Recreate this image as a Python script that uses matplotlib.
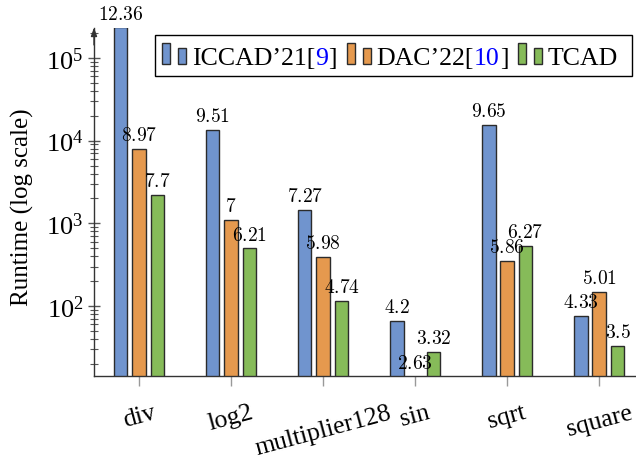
import numpy as np
import matplotlib
matplotlib.use("Agg")
import matplotlib.pyplot as plt
from matplotlib.patches import Rectangle
from matplotlib.offsetbox import AnchoredOffsetbox, HPacker, TextArea, DrawingArea

plt.rcParams['font.family'] = ['Liberation Serif', 'DejaVu Serif']
plt.rcParams['mathtext.fontset'] = 'custom'
plt.rcParams['mathtext.rm'] = 'Liberation Serif'
plt.rcParams['mathtext.it'] = 'Liberation Serif:italic'
plt.rcParams['mathtext.bf'] = 'Liberation Serif:bold'

# benchmark names
cases = ["div", "log2", "multiplier128", "sin", "sqrt", "square"]
# labels above bars are ln(runtime)
iccad_ln = [12.36, 9.51, 7.27, 4.2, 9.65, 4.33]
dac_ln = [8.97, 7, 5.98, 2.63, 5.86, 5.01]
tcad_ln = [7.7, 6.21, 4.74, 3.32, 6.27, 3.5]

series = [iccad_ln, dac_ln, tcad_ln]
colors = ["#7094CE", "#E5994E", "#86BB59"]
edge = "#2b2b2b"

fig = plt.figure(figsize=(6.36, 4.6), dpi=100)
ax = fig.add_axes([94 / 636, 83 / 460, 542 / 636, 348.5 / 460])

x = np.arange(len(cases))
w = 0.147
offs = [-0.2, 0.0, 0.2]
for vals, c, o in zip(series, colors, offs):
    h = np.exp(np.array(vals, dtype=float))
    ax.bar(x + o, h, width=w, color=c, edgecolor=edge, linewidth=1.0, zorder=2)
    for xi, hi, v in zip(x + o, h, vals):
        ax.annotate("${:g}$".format(v), xy=(xi, hi), xytext=(0, 3.5),
                    textcoords="offset points", ha="center", va="bottom",
                    fontsize=14, math_fontfamily="cm", annotation_clip=False,
                    zorder=3)

ax.set_yscale("log")
ax.set_ylim(14.3, 2.33e5)
ax.set_xlim(-0.49, 5.40)

ax.set_xticks(x)
ax.set_xticklabels(cases, rotation=15, fontsize=18.5)
ax.tick_params(axis="x", direction="out", length=7, color="#999999", width=1, pad=11)
ax.tick_params(axis="y", which="major", direction="inout", length=9, color="#555555",
               width=1, labelsize=19, pad=3)
ax.tick_params(axis="y", which="minor", direction="inout", length=6, color="#555555", width=0.8)

for s in ["top", "right"]:
    ax.spines[s].set_visible(False)
for s in ["left", "bottom"]:
    ax.spines[s].set_color("#333333")
    ax.spines[s].set_linewidth(1.0)

# arrow on top of y axis
ax.annotate("", xy=(0, 1.0), xytext=(0, 0.95), xycoords="axes fraction",
            arrowprops=dict(arrowstyle="-|>,head_width=0.18,head_length=0.5",
                            color="#333333", lw=1.0, shrinkA=0, shrinkB=0))

ax.set_ylabel("Runtime (log scale)", fontsize=18)
ax.yaxis.set_label_coords(-0.11, 0.486)

# legend with the colored citation numbers
def handle(c):
    da = DrawingArea(17, 15, 0, 0)
    da.add_artist(Rectangle((0, 0), 5.5, 15, fc=c, ec=edge, lw=1.0))
    da.add_artist(Rectangle((11.5, 0), 5.5, 11, fc=c, ec=edge, lw=1.0))
    return da

tp = dict(fontsize=18.6, color="black")
tb = dict(fontsize=18.6, color="blue")
entries = [
    [TextArea("ICCAD’21[", textprops=tp), TextArea("9", textprops=tb), TextArea("]", textprops=tp)],
    [TextArea("DAC’22[", textprops=tp), TextArea("10", textprops=tb), TextArea("]", textprops=tp)],
    [TextArea("TCAD", textprops=tp), TextArea(" ", textprops=tp)],
]
items = []
for c, parts in zip(colors, entries):
    txt = HPacker(children=parts, sep=0, pad=0, align="baseline")
    items.append(HPacker(children=[handle(c), txt], sep=4.3, pad=0, align="baseline"))
box = HPacker(children=items, sep=7.2, pad=0, align="baseline")
leg = AnchoredOffsetbox(loc="upper right", child=box, pad=0.55, borderpad=0,
                        frameon=True, bbox_to_anchor=(0.993, 0.978),
                        bbox_transform=ax.transAxes, prop=dict(size=10))
leg.patch.set_edgecolor("black")
leg.patch.set_linewidth(1.0)
leg.zorder = 5
ax.add_artist(leg)

fig.savefig("out.png", dpi=100)
